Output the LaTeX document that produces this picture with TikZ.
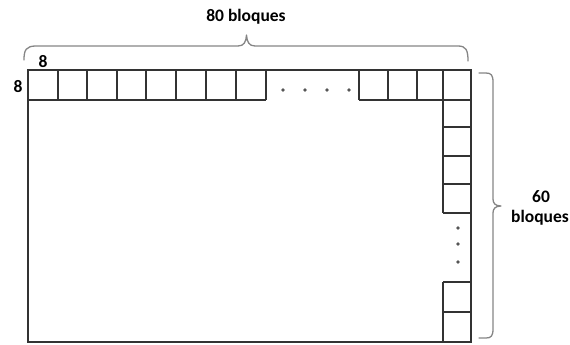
\documentclass[tikz,border=0pt]{standalone}
\usepackage{fontspec}
\setmainfont{Carlito}
\definecolor{linec}{HTML}{333333}
\definecolor{bracec}{HTML}{858585}
\definecolor{dotc}{HTML}{555555}
\newcommand{\lblfont}{\bfseries\fontsize{17.5pt}{20pt}\selectfont}
\begin{document}
\begin{tikzpicture}[x=1pt,y=-1pt,
  grid/.style={draw=linec,line width=1.6pt},
  bracel/.style={draw=bracec,line width=1.3pt,line cap=round,line join=round},
  lbl/.style={font=\lblfont,text=black,inner sep=0pt},
  dotmark/.style={fill=dotc}]
\useasboundingbox (0,0) rectangle (570,345);
% outer rectangle
\draw[grid] (28,70) rectangle (471,342);
% top row left squares
\draw[grid] (28,100) -- (266,100);
\foreach \x in {58,87,117,146,176,206,236,266}
  \draw[grid] (\x,70) -- (\x,100);
% top row right squares
\draw[grid] (359,100) -- (471,100);
\foreach \x in {359,388,417}
  \draw[grid] (\x,70) -- (\x,100);
% right column
\draw[grid] (443,70) -- (443,213);
\foreach \y in {127,156,184,213}
  \draw[grid] (443,\y) -- (471,\y);
\draw[grid] (443,282) -- (443,342);
\foreach \y in {282,312}
  \draw[grid] (443,\y) -- (471,\y);
% dots
\foreach \x in {283,305,327,349}
  \fill[dotmark] (\x,90) circle (1.8);
\foreach \y in {228,244,262}
  \fill[dotmark] (458,\y) circle (1.8);
% top brace
\draw[bracel] (24,60) .. controls (24,50) and (26,46) .. (36,46) -- (238,46)
  .. controls (244,46) and (246,42) .. (246.5,35)
  .. controls (247,42) and (249,46) .. (255,46) -- (458,46)
  .. controls (466,46) and (468,50) .. (468,61);
% right brace
\draw[bracel] (479,73) -- (486,73) .. controls (491,73) and (493,75) .. (493,82) -- (493,199)
  .. controls (493,203) and (495,206) .. (501,206)
  .. controls (495,206) and (493,209) .. (493,213) -- (493,329)
  .. controls (493,336) and (491,338) .. (486,338) -- (479,338);
% labels
\node[lbl] (top) at (246,17) {80 bloques};
\node[lbl] (side1) at (541,197) {60};
\node[lbl] (side2) at (540,218) {bloques};
\node[lbl] (w) at (43,62) {8};
\node[lbl] (h) at (18,87) {8};
\end{tikzpicture}
\end{document}
